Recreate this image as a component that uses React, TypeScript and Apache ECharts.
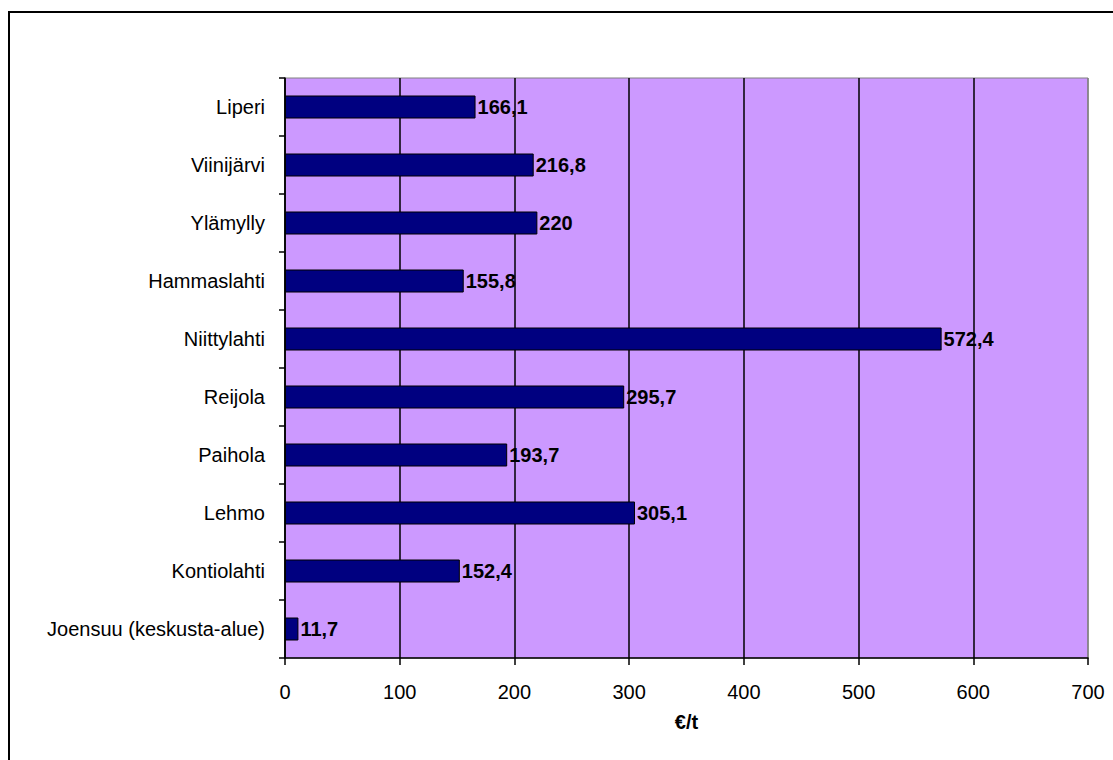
import React, { useEffect, useRef } from "react";
import * as echarts from "echarts";

// Places, bottom to top as drawn on the category axis
const places = [
  "Joensuu (keskusta-alue)",
  "Kontiolahti",
  "Lehmo",
  "Paihola",
  "Reijola",
  "Niittylahti",
  "Hammaslahti",
  "Ylämylly",
  "Viinijärvi",
  "Liperi",
];

// Cost per tonne (€/t)
const costs = [11.7, 152.4, 305.1, 193.7, 295.7, 572.4, 155.8, 220, 216.8, 166.1];

const xTicks = [0, 100, 200, 300, 400, 500, 600, 700];

const FONT = "Liberation Sans, Arial, sans-serif";

export default function App() {
  const ref = useRef<HTMLDivElement>(null);

  useEffect(() => {
    if (!ref.current) return;
    const chart = echarts.init(ref.current, undefined, { renderer: "svg" });
    const gridColors = xTicks.map((v, i) => (i === xTicks.length - 1 ? "#808080" : "#000000"));
    chart.setOption({
      animation: false,
      backgroundColor: "#ffffff",
      graphic: [
        {
          type: "rect",
          shape: { x: 9, y: 12, width: 1200, height: 800 },
          style: { fill: "none", stroke: "#000000", lineWidth: 2 },
          silent: true,
        },
      ],
      grid: {
        left: 285,
        top: 78,
        width: 803,
        height: 580,
        show: true,
        backgroundColor: "#CC99FF",
        borderColor: "#808080",
        borderWidth: 1,
      },
      xAxis: {
        type: "value",
        min: 0,
        max: 700,
        interval: 100,
        name: "€/t",
        nameLocation: "middle",
        nameGap: 54,
        nameTextStyle: { fontFamily: FONT, fontSize: 20, fontWeight: "bold", color: "#000" },
        axisLine: { show: true, lineStyle: { color: "#000", width: 1.5 } },
        axisTick: { show: true, length: 7, lineStyle: { color: "#000", width: 1.5 } },
        axisLabel: {
          margin: 24,
          fontFamily: FONT,
          fontSize: 20,
          color: "#000",
          formatter: (v: number) => String(v),
        },
        splitLine: { show: true, lineStyle: { color: gridColors, width: 1.5 } },
      },
      yAxis: {
        type: "category",
        data: places,
        axisLine: { show: true, lineStyle: { color: "#000", width: 1.5 } },
        axisTick: { show: true, length: 6, lineStyle: { color: "#000", width: 1.5 } },
        axisLabel: { margin: 20, fontFamily: FONT, fontSize: 20, color: "#000" },
        splitLine: { show: false },
      },
      series: [
        {
          type: "bar",
          data: costs,
          barWidth: 23,
          itemStyle: { color: "#000080", borderColor: "#000000", borderWidth: 1 },
          label: {
            show: true,
            position: "right",
            distance: 2,
            fontFamily: FONT,
            fontSize: 20,
            fontWeight: "bold",
            color: "#000",
            formatter: (p: any) => String(p.value).replace(".", ","),
          },
        },
      ],
    });
    return () => chart.dispose();
  }, []);

  return (
    <div
      ref={ref}
      style={{ position: "fixed", left: 0, top: 0, width: 1113, height: 760 }}
    />
  );
}
